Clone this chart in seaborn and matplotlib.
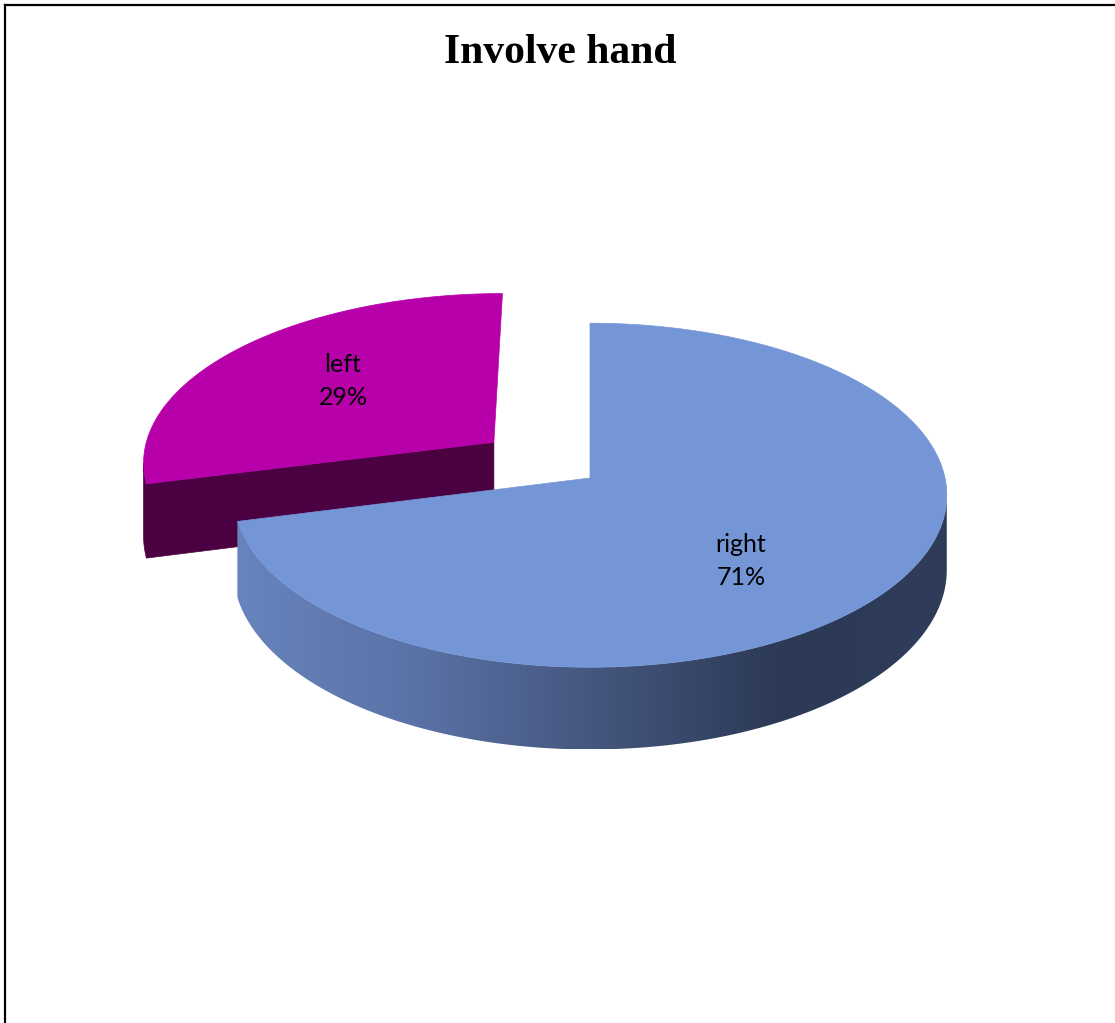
import numpy as np
import matplotlib
matplotlib.use("Agg")
import matplotlib.pyplot as plt
import seaborn as sns
from matplotlib.patches import Polygon
from matplotlib.colors import LinearSegmentedColormap

# ---- data ----
categories = ["right", "left"]
values = [71, 29]
title = "Involve hand"

# ---- style ----
sns.set_style("white")
plt.rcParams['font.family'] = ['Lato', 'DejaVu Sans']

W, H = 1115, 1023
fig = plt.figure(figsize=(W / 100, H / 100), dpi=100)
ax = fig.add_axes([0, 0, 1, 1])
ax.set_xlim(0, W)
ax.set_ylim(H, 0)
ax.axis('off')

# layout of the 3-D pie (pixels)
CX, CY, RX, RY, DEPTH, K = 590, 478, 355, 170.3, 74, 0.1
EXPLODE = [0.0, 0.35]
TOP_COLORS = ["#7596D6", "#B800AA"]
SIDE_COLORS = ["#3A4A70", "#4B0042"]
GRAD_STOPS = [(0.0, "#6884BE"), (0.25, "#5A72A6"), (0.5, "#45577F"),
              (0.76, "#2C3A56"), (1.0, "#2F3C5A")]
LABEL_XY = [(741, 561), (343, 381)]


def proj(u, v, z=0.0):
    f = 1.0 / (1.0 + K * v)
    return CX + RX * u * f, CY - RY * v * f + z * DEPTH * f


vals = np.array(values, dtype=float)
fracs = vals / vals.sum()
start = 90.0
cum = np.concatenate([[0], np.cumsum(fracs)])

grad_cmap = LinearSegmentedColormap.from_list("side", GRAD_STOPS)

# draw order: exploded (back) slice first, then main
order = [1, 0]
for i in order:
    th1 = np.deg2rad(start - cum[i] * 360)
    th0 = np.deg2rad(start - cum[i + 1] * 360)
    mid = 0.5 * (th0 + th1)
    ou, ov = EXPLODE[i] * np.cos(mid), EXPLODE[i] * np.sin(mid)
    top_c = TOP_COLORS[i]
    side_c = SIDE_COLORS[i]

    # cut faces
    for th, n in [(th0, (np.sin(th0), -np.cos(th0))),
                  (th1, (-np.sin(th1), np.cos(th1)))]:
        if n[1] < -1e-6:
            pts = [proj(ou, ov, 0), proj(ou + np.cos(th), ov + np.sin(th), 0),
                   proj(ou + np.cos(th), ov + np.sin(th), 1), proj(ou, ov, 1)]
            ax.add_patch(Polygon(pts, closed=True, facecolor=side_c,
                                 edgecolor=side_c, lw=0.5, zorder=2))

    # outer curved side
    ths = np.linspace(th0, th1, 600)
    vis = ou * np.cos(ths) + ov * np.sin(ths) + 1 + np.sin(ths) / K < 0
    if vis.any():
        idx = np.where(vis)[0]
        runs = np.split(idx, np.where(np.diff(idx) > 1)[0] + 1)
        for run in runs:
            t = ths[run]
            topp = [proj(ou + np.cos(a), ov + np.sin(a), 0) for a in t]
            botp = [proj(ou + np.cos(a), ov + np.sin(a), 1) for a in t[::-1]]
            pts = np.array(topp + botp)
            if i == 0:
                poly = Polygon(pts, closed=True, facecolor="none",
                               edgecolor="none", zorder=2)
                ax.add_patch(poly)
                x0, x1 = pts[:, 0].min(), pts[:, 0].max()
                y0, y1 = pts[:, 1].min(), pts[:, 1].max()
                grad = np.linspace(0, 1, 512)[np.newaxis, :]
                im = ax.imshow(grad, extent=[x0, x1, y1, y0], cmap=grad_cmap,
                               aspect='auto', zorder=2, interpolation='bilinear')
                im.set_clip_path(poly)
            else:
                ax.add_patch(Polygon(pts, closed=True, facecolor=side_c,
                                     edgecolor=side_c, lw=0.5, zorder=2))

    # top face
    tt = np.linspace(th0, th1, 400)
    pts = [proj(ou, ov, 0)] + [proj(ou + np.cos(a), ov + np.sin(a), 0) for a in tt]
    ax.add_patch(Polygon(pts, closed=True, facecolor=top_c, edgecolor=top_c,
                         lw=0.5, zorder=3))

    # label
    pct = int(round(fracs[i] * 100))
    lx, ly = LABEL_XY[i]
    ax.text(lx, ly, f"{categories[i]}\n{pct}%", ha='center', va='center',
            fontsize=18, linespacing=1.5, color='black', zorder=5)

ax.set_xlim(0, W)
ax.set_ylim(H, 0)

# title
ax.text(560.5, 63, title, ha='center', va='baseline', fontsize=30, color='black',
        fontweight='bold', family=['Liberation Serif', 'DejaVu Serif'], zorder=5)

# frame (top and left)
ax.plot([5, W], [5, 5], color='black', lw=1.6, solid_capstyle='projecting', zorder=6)
ax.plot([5, 5], [5, H], color='black', lw=1.6, solid_capstyle='projecting', zorder=6)

fig.savefig("out.png", dpi=100)
